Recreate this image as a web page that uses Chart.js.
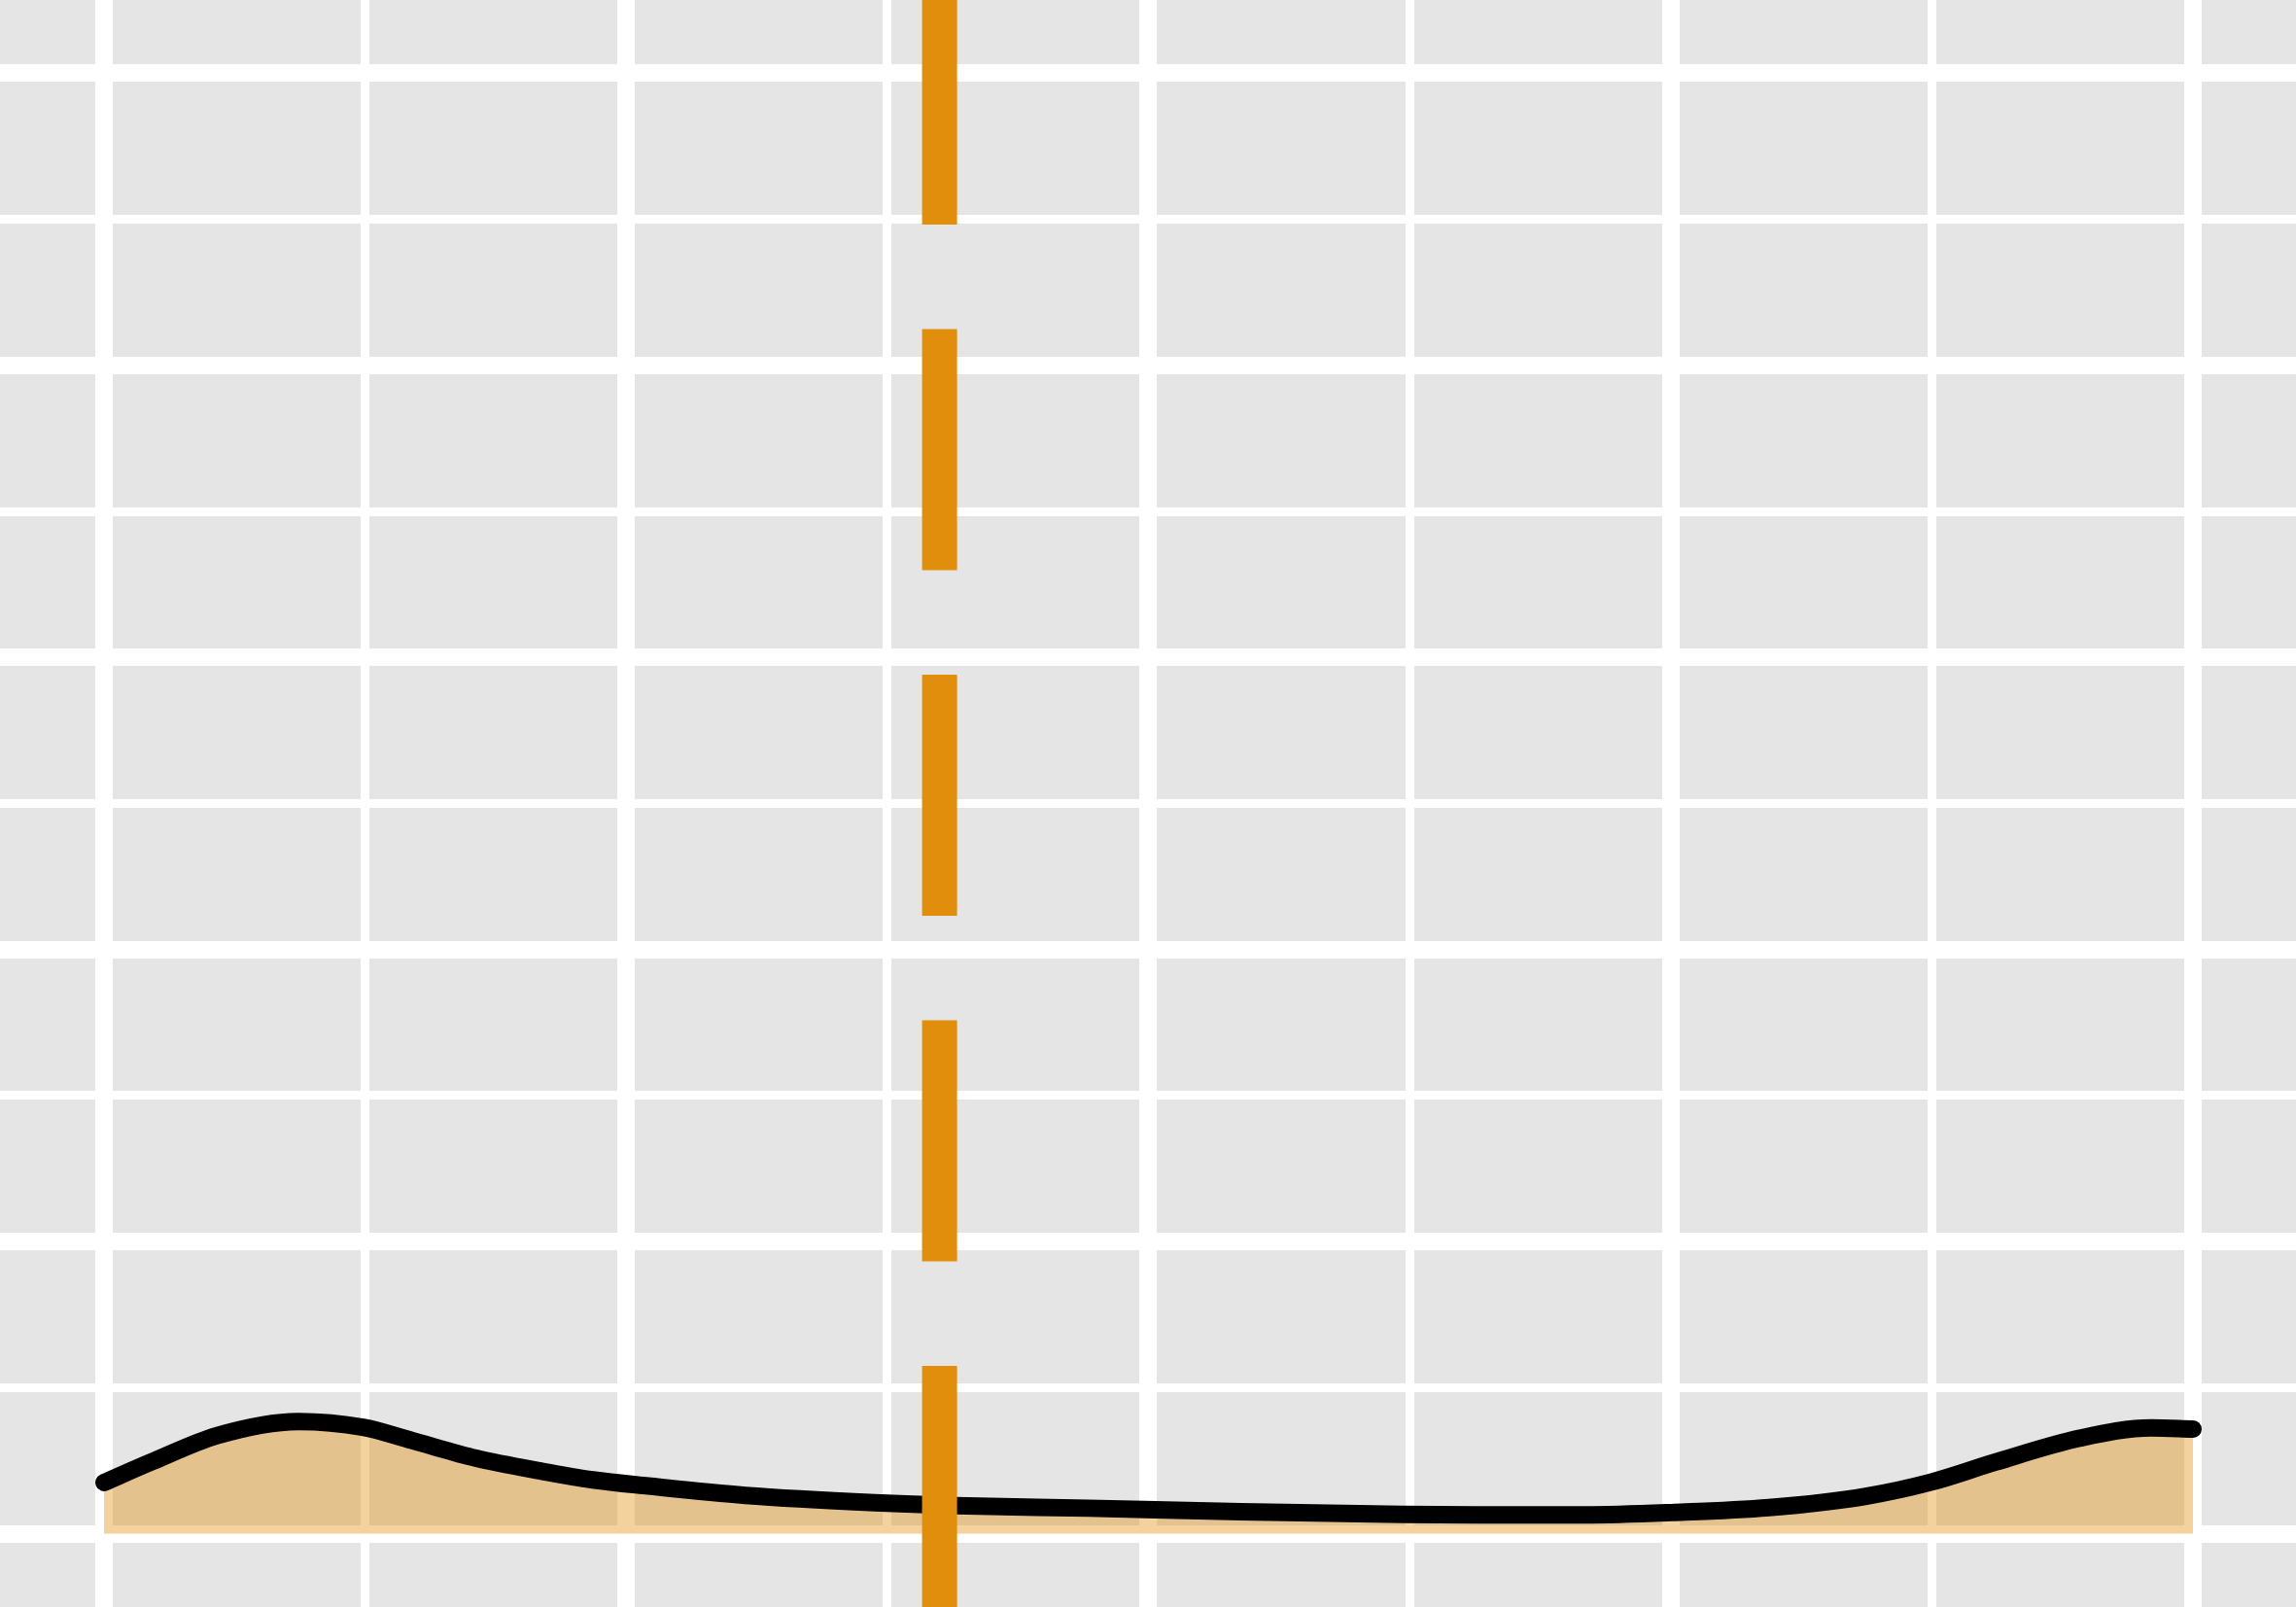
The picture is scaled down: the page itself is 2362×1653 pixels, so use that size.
<!DOCTYPE html>
<html>
<head>
<meta charset="utf-8">
<style>
  html, body { margin: 0; padding: 0; background: #E5E5E5; }
  canvas { display: block; }
</style>
<script src="https://cdn.jsdelivr.net/npm/chart.js@4/dist/chart.umd.min.js"></script>
</head>
<body>
<canvas id="c" width="2362" height="1653"></canvas>
<script>
// Density curve
const densityX = [0.000, 0.093, 0.217, 0.372, 0.496, 0.589, 0.713, 0.837, 0.936, 1.042,
                  1.228, 1.476, 1.631, 1.885, 2.177, 2.487, 2.624, 2.835, 3.002, 3.188,
                  3.374, 3.498, 3.622, 3.784, 3.920, 4.000];
const densityY = [0.175, 0.247, 0.336, 0.384, 0.364, 0.319, 0.258, 0.214, 0.184, 0.163,
                  0.131, 0.106, 0.096, 0.087, 0.075, 0.066, 0.064, 0.064, 0.072, 0.089,
                  0.128, 0.176, 0.245, 0.327, 0.362, 0.358];
// Vertical reference line (dashed)
const refLineX = [1.6];
// Visible axis window
const xRange = [-0.1991, 4.1973];
const yRange = [-0.2513, 5.2513];

const densityPoints = densityX.map((x, i) => ({ x: x, y: densityY[i] }));
const refPoints = [{ x: refLineX[0], y: yRange[0] }, { x: refLineX[0], y: yRange[1] }];

const panelBg = {
  id: 'panelBg',
  beforeDraw(chart) {
    const { ctx, width, height } = chart;
    ctx.save();
    ctx.fillStyle = '#E5E5E5';
    ctx.fillRect(0, 0, width, height);
    ctx.restore();
  }
};

const gridWidth = (ctx) => (ctx.tick && Math.abs(ctx.tick.value - Math.round(ctx.tick.value)) < 1e-6) ? 18 : 9;

new Chart(document.getElementById('c'), {
  type: 'line',
  data: {
    datasets: [
      {
        label: 'reference',
        data: refPoints,
        borderColor: '#E08E0B',
        borderWidth: 36,
        borderDash: [248, 107.5],
        borderCapStyle: 'butt',
        fill: false,
        pointRadius: 0,
        tension: 0
      },
      {
        label: 'density',
        data: densityPoints,
        borderColor: '#000000',
        borderWidth: 18,
        borderCapStyle: 'round',
        borderJoinStyle: 'round',
        backgroundColor: 'rgba(224,142,11,0.4)',
        fill: 'origin',
        pointRadius: 0,
        cubicInterpolationMode: 'monotone'
      }
    ]
  },
  plugins: [panelBg],
  options: {
    responsive: false,
    animation: false,
    events: [],
    layout: { padding: 0 },
    plugins: { legend: { display: false }, tooltip: { enabled: false } },
    scales: {
      x: {
        type: 'linear',
        min: xRange[0],
        max: xRange[1],
        border: { display: false },
        ticks: { display: false, stepSize: 0.5, includeBounds: false },
        grid: { color: '#FFFFFF', lineWidth: gridWidth, drawTicks: false, tickLength: 0 },
        afterFit: (s) => { s.height = 0; }
      },
      y: {
        type: 'linear',
        min: yRange[0],
        max: yRange[1],
        border: { display: false },
        ticks: { display: false, stepSize: 0.5, includeBounds: false },
        grid: { color: '#FFFFFF', lineWidth: gridWidth, drawTicks: false, tickLength: 0 },
        afterFit: (s) => { s.width = 0; }
      }
    }
  }
});
</script>
</body>
</html>
